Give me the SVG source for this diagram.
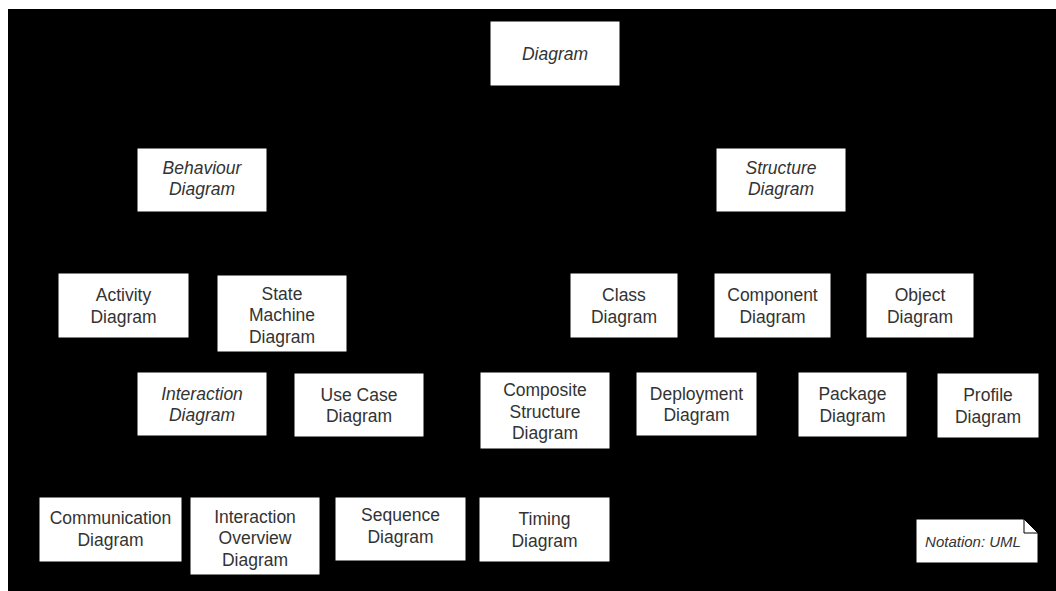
<svg xmlns="http://www.w3.org/2000/svg" width="1056" height="591" viewBox="0 0 1056 591">
<style>
.box{fill:#fff;stroke:#000;stroke-width:1}
.t{font-family:"Liberation Sans",Arial,sans-serif;font-size:17.5px;fill:#333;text-anchor:middle}
.i{font-style:italic}
.fold{fill:none;stroke:#000;stroke-width:1}
</style>
<rect x="0" y="0" width="1056" height="591" fill="#fff"/>
<rect x="8" y="9" width="1048" height="582" fill="#000"/>
<g id="connectors"></g>
<g id="diagram"><rect class="box" x="490" y="21" width="130" height="65"/><text class="t i" x="555" y="59.5">Diagram</text></g>
<g id="behaviour-diagram"><rect class="box" x="137" y="148" width="130" height="64"/><text class="t i" x="202" y="173.5">Behaviour</text><text class="t i" x="202" y="195">Diagram</text></g>
<g id="structure-diagram"><rect class="box" x="716" y="148" width="130" height="64"/><text class="t i" x="781" y="173.5">Structure</text><text class="t i" x="781" y="195">Diagram</text></g>
<g id="activity-diagram"><rect class="box" x="58" y="273" width="131" height="65"/><text class="t" x="123.5" y="301">Activity</text><text class="t" x="123.5" y="322.5">Diagram</text></g>
<g id="state-machine-diagram"><rect class="box" x="217" y="275" width="130" height="77"/><text class="t" x="282" y="299.5">State</text><text class="t" x="282" y="321">Machine</text><text class="t" x="282" y="342.5">Diagram</text></g>
<g id="class-diagram"><rect class="box" x="570" y="273" width="108" height="65"/><text class="t" x="624" y="301">Class</text><text class="t" x="624" y="322.5">Diagram</text></g>
<g id="component-diagram"><rect class="box" x="714" y="273" width="117" height="65"/><text class="t" x="772.5" y="301">Component</text><text class="t" x="772.5" y="322.5">Diagram</text></g>
<g id="object-diagram"><rect class="box" x="866" y="273" width="108" height="65"/><text class="t" x="920" y="301">Object</text><text class="t" x="920" y="322.5">Diagram</text></g>
<g id="interaction-diagram"><rect class="box" x="137" y="372" width="130" height="64"/><text class="t i" x="202" y="399.5">Interaction</text><text class="t i" x="202" y="421">Diagram</text></g>
<g id="use-case-diagram"><rect class="box" x="294" y="373" width="130" height="64"/><text class="t" x="359" y="400.5">Use Case</text><text class="t" x="359" y="422">Diagram</text></g>
<g id="composite-structure-diagram"><rect class="box" x="480" y="372" width="130" height="77"/><text class="t" x="545" y="396">Composite</text><text class="t" x="545" y="417.5">Structure</text><text class="t" x="545" y="439">Diagram</text></g>
<g id="deployment-diagram"><rect class="box" x="636" y="372" width="121" height="64"/><text class="t" x="696.5" y="399.5">Deployment</text><text class="t" x="696.5" y="421">Diagram</text></g>
<g id="package-diagram"><rect class="box" x="798" y="372" width="109" height="65"/><text class="t" x="852.5" y="400">Package</text><text class="t" x="852.5" y="421.5">Diagram</text></g>
<g id="profile-diagram"><rect class="box" x="937" y="373" width="102" height="65"/><text class="t" x="988" y="401">Profile</text><text class="t" x="988" y="422.5">Diagram</text></g>
<g id="communication-diagram"><rect class="box" x="39" y="497" width="143" height="65"/><text class="t" x="110.5" y="524">Communication</text><text class="t" x="110.5" y="545.5">Diagram</text></g>
<g id="interaction-overview-diagram"><rect class="box" x="190" y="497" width="130" height="78"/><text class="t" x="255" y="522.5">Interaction</text><text class="t" x="255" y="544">Overview</text><text class="t" x="255" y="565.5">Diagram</text></g>
<g id="sequence-diagram"><rect class="box" x="335" y="497" width="131" height="64"/><text class="t" x="400.5" y="521">Sequence</text><text class="t" x="400.5" y="543">Diagram</text></g>
<g id="timing-diagram"><rect class="box" x="479" y="497" width="131" height="65"/><text class="t" x="544.5" y="524.5">Timing</text><text class="t" x="544.5" y="546.5">Diagram</text></g>
<g id="note"><path class="box" d="M916,519 H1024 L1038,533 V563 H916 Z"/><path class="fold" d="M1024,519 V533 H1038"/><text class="t i" x="973" y="547" style="font-size:15px">Notation: UML</text></g>
</svg>
